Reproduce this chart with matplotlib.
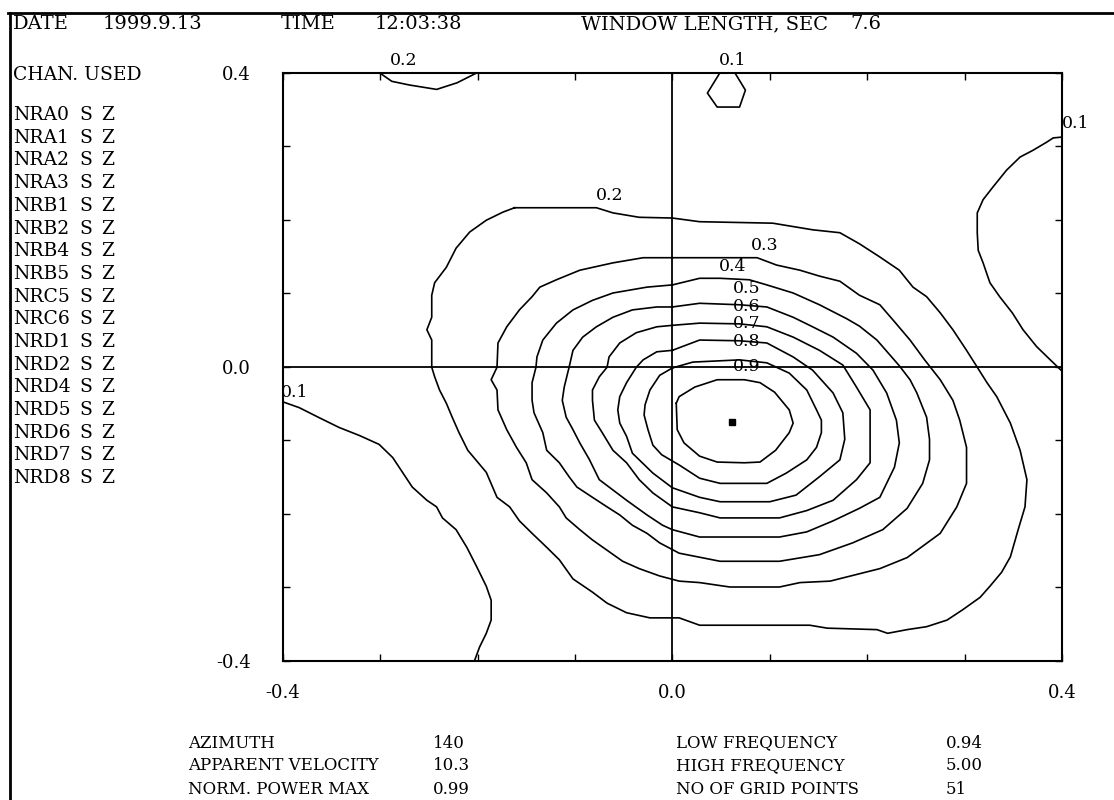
import matplotlib
matplotlib.use("Agg")
import matplotlib.pyplot as plt
from matplotlib.lines import Line2D

W, H = 1114, 800

# --- header and station list -------------------------------------------
header_labels = ["DATE", "TIME", "WINDOW LENGTH, SEC"]
header_values = ["1999.9.13", "12:03:38", "7.6"]

channels = ["NRA0", "NRA1", "NRA2", "NRA3", "NRB1", "NRB2", "NRB4", "NRB5",
            "NRC5", "NRC6", "NRD1", "NRD2", "NRD4", "NRD5", "NRD6", "NRD7",
            "NRD8"]
chan_type = "S"
chan_comp = "Z"

summary_left = ["AZIMUTH", "APPARENT VELOCITY", "NORM. POWER MAX"]
summary_left_vals = ["140", "10.3", "0.99"]
summary_right = ["LOW FREQUENCY", "HIGH FREQUENCY", "NO OF GRID POINTS"]
summary_right_vals = ["0.94", "5.00", "51"]

# --- contour traces (slowness x, slowness y) ----------------------------
ring_02 = [(-0.162, 0.216), (-0.078, 0.216), (-0.061, 0.209), (-0.034, 0.203),
           (0.000, 0.202), (0.028, 0.197), (0.103, 0.195), (0.144, 0.186),
           (0.172, 0.182), (0.192, 0.167), (0.213, 0.149), (0.233, 0.131),
           (0.247, 0.108), (0.261, 0.095), (0.275, 0.073), (0.288, 0.050),
           (0.302, 0.022), (0.313, -0.001), (0.323, -0.022), (0.333, -0.041),
           (0.347, -0.077), (0.357, -0.114), (0.364, -0.154), (0.362, -0.191),
           (0.355, -0.222), (0.347, -0.259), (0.338, -0.280), (0.326, -0.299),
           (0.316, -0.314), (0.298, -0.331), (0.282, -0.345), (0.261, -0.354),
           (0.241, -0.358), (0.221, -0.363), (0.210, -0.358), (0.159, -0.356),
           (0.141, -0.352), (0.028, -0.352), (0.007, -0.342), (-0.023, -0.342),
           (-0.047, -0.335), (-0.067, -0.322), (-0.082, -0.307), (-0.102, -0.289),
           (-0.116, -0.263), (-0.129, -0.246), (-0.144, -0.227), (-0.157, -0.210),
           (-0.167, -0.191), (-0.180, -0.178), (-0.191, -0.144), (-0.210, -0.114),
           (-0.219, -0.090), (-0.226, -0.069), (-0.232, -0.050), (-0.239, -0.032),
           (-0.244, -0.014), (-0.247, -0.001), (-0.247, 0.036), (-0.252, 0.050),
           (-0.247, 0.067), (-0.247, 0.097), (-0.244, 0.114), (-0.232, 0.135),
           (-0.222, 0.161), (-0.208, 0.183), (-0.191, 0.199), (-0.174, 0.210),
           (-0.162, 0.216)]

ring_03 = [(0.000, 0.148), (0.087, 0.148), (0.107, 0.138), (0.131, 0.131),
           (0.151, 0.123), (0.172, 0.116), (0.192, 0.097), (0.213, 0.084),
           (0.228, 0.061), (0.244, 0.036), (0.259, 0.009), (0.275, -0.018),
           (0.288, -0.046), (0.295, -0.073), (0.302, -0.110), (0.302, -0.159),
           (0.292, -0.191), (0.275, -0.227), (0.241, -0.260), (0.213, -0.275),
           (0.192, -0.282), (0.162, -0.292), (0.131, -0.294), (0.110, -0.300),
           (0.059, -0.300), (0.028, -0.294), (0.007, -0.292), (-0.013, -0.285),
           (-0.034, -0.275), (-0.051, -0.265), (-0.067, -0.250), (-0.082, -0.236),
           (-0.095, -0.222), (-0.109, -0.206), (-0.116, -0.191), (-0.129, -0.172),
           (-0.144, -0.154), (-0.150, -0.131), (-0.160, -0.110), (-0.170, -0.086),
           (-0.179, -0.059), (-0.180, -0.032), (-0.186, -0.018), (-0.180, -0.001),
           (-0.179, 0.032), (-0.170, 0.054), (-0.157, 0.077), (-0.144, 0.095),
           (-0.136, 0.108), (-0.119, 0.118), (-0.095, 0.131), (-0.061, 0.141),
           (-0.030, 0.148), (0.000, 0.148)]

ring_04 = [(0.000, 0.111), (0.028, 0.120), (0.049, 0.120), (0.079, 0.118),
           (0.097, 0.111), (0.124, 0.100), (0.151, 0.084), (0.179, 0.065),
           (0.192, 0.055), (0.210, 0.036), (0.233, 0.001), (0.244, -0.018),
           (0.251, -0.036), (0.261, -0.069), (0.264, -0.099), (0.264, -0.127),
           (0.257, -0.159), (0.241, -0.193), (0.216, -0.222), (0.185, -0.240),
           (0.151, -0.256), (0.110, -0.265), (0.049, -0.265), (0.007, -0.254),
           (-0.013, -0.240), (-0.026, -0.227), (-0.041, -0.216), (-0.054, -0.202),
           (-0.067, -0.191), (-0.082, -0.178), (-0.098, -0.164), (-0.106, -0.150),
           (-0.116, -0.131), (-0.129, -0.114), (-0.133, -0.090), (-0.142, -0.063),
           (-0.144, -0.046), (-0.144, -0.022), (-0.140, -0.001), (-0.139, 0.013),
           (-0.133, 0.036), (-0.119, 0.059), (-0.102, 0.077), (-0.082, 0.090),
           (-0.061, 0.100), (-0.026, 0.108), (0.000, 0.111)]

ring_05 = [(0.000, 0.081), (0.028, 0.086), (0.069, 0.084), (0.097, 0.081),
           (0.124, 0.067), (0.144, 0.054), (0.165, 0.040), (0.189, 0.018),
           (0.206, -0.005), (0.220, -0.036), (0.230, -0.073), (0.233, -0.104),
           (0.228, -0.137), (0.213, -0.178), (0.192, -0.193), (0.165, -0.210),
           (0.138, -0.225), (0.110, -0.232), (0.028, -0.232), (0.000, -0.222),
           (-0.010, -0.216), (-0.026, -0.202), (-0.047, -0.182), (-0.061, -0.168),
           (-0.075, -0.154), (-0.085, -0.127), (-0.095, -0.104), (-0.102, -0.086),
           (-0.109, -0.069), (-0.113, -0.046), (-0.111, -0.028), (-0.106, -0.001),
           (-0.102, 0.022), (-0.092, 0.040), (-0.078, 0.054), (-0.061, 0.067),
           (-0.041, 0.077), (-0.016, 0.081), (0.000, 0.081)]

ring_06 = [(0.000, 0.056), (0.028, 0.059), (0.069, 0.058), (0.097, 0.054),
           (0.124, 0.040), (0.151, 0.022), (0.175, 0.002), (0.189, -0.028),
           (0.203, -0.059), (0.203, -0.131), (0.189, -0.154), (0.165, -0.182),
           (0.138, -0.196), (0.110, -0.206), (0.049, -0.206), (0.028, -0.199),
           (0.000, -0.191), (-0.020, -0.172), (-0.034, -0.154), (-0.047, -0.131),
           (-0.061, -0.114), (-0.072, -0.090), (-0.080, -0.073), (-0.082, -0.046),
           (-0.082, -0.032), (-0.075, -0.014), (-0.067, -0.001), (-0.065, 0.013),
           (-0.054, 0.032), (-0.037, 0.046), (-0.016, 0.054), (0.000, 0.056)]

ring_07 = [(0.000, 0.022), (0.028, 0.036), (0.069, 0.035), (0.097, 0.032),
           (0.124, 0.013), (0.144, -0.005), (0.165, -0.036), (0.175, -0.063),
           (0.177, -0.099), (0.172, -0.127), (0.151, -0.150), (0.127, -0.175),
           (0.100, -0.184), (0.049, -0.184), (0.028, -0.178), (0.000, -0.165),
           (-0.020, -0.145), (-0.034, -0.127), (-0.041, -0.118), (-0.047, -0.095),
           (-0.054, -0.077), (-0.056, -0.059), (-0.054, -0.041), (-0.047, -0.022),
           (-0.037, -0.001), (-0.030, 0.009), (-0.016, 0.020), (0.000, 0.022)]

ring_08 = [(0.000, -0.002), (0.021, 0.006), (0.069, 0.009), (0.097, 0.005),
           (0.120, -0.009), (0.138, -0.032), (0.148, -0.059), (0.153, -0.073),
           (0.153, -0.090), (0.148, -0.110), (0.138, -0.127), (0.117, -0.145),
           (0.097, -0.159), (0.049, -0.159), (0.028, -0.152), (0.007, -0.134),
           (-0.011, -0.120), (-0.020, -0.107), (-0.025, -0.086), (-0.029, -0.066),
           (-0.028, -0.052), (-0.023, -0.032), (-0.013, -0.012), (0.000, -0.002)]

ring_09 = [(0.004, -0.050), (0.005, -0.086), (0.012, -0.104), (0.028, -0.122),
           (0.046, -0.130), (0.074, -0.131), (0.090, -0.130), (0.106, -0.114),
           (0.120, -0.090), (0.124, -0.077), (0.120, -0.059), (0.105, -0.035),
           (0.090, -0.022), (0.074, -0.018), (0.046, -0.018), (0.023, -0.028),
           (0.007, -0.041), (0.004, -0.050)]

edge_01_right = [(0.399, 0.312), (0.391, 0.311), (0.384, 0.305), (0.370, 0.294),
                 (0.357, 0.285), (0.343, 0.267), (0.329, 0.244), (0.319, 0.227),
                 (0.313, 0.209), (0.313, 0.182), (0.314, 0.158), (0.319, 0.141),
                 (0.326, 0.114), (0.336, 0.095), (0.349, 0.073), (0.360, 0.050),
                 (0.374, 0.027), (0.388, 0.009), (0.399, -0.005)]

edge_01_left = [(-0.400, -0.048), (-0.383, -0.056), (-0.362, -0.070), (-0.342, -0.083),
                (-0.321, -0.094), (-0.301, -0.106), (-0.287, -0.124), (-0.280, -0.138),
                (-0.267, -0.164), (-0.252, -0.182), (-0.242, -0.191), (-0.236, -0.206),
                (-0.222, -0.222), (-0.211, -0.246), (-0.201, -0.272), (-0.191, -0.299),
                (-0.186, -0.318), (-0.186, -0.345), (-0.191, -0.363), (-0.198, -0.382),
                (-0.203, -0.400)]

edge_01_top = [(0.049, 0.400), (0.036, 0.372), (0.046, 0.353), (0.069, 0.353),
               (0.075, 0.376), (0.064, 0.400)]

edge_02_top = [(-0.301, 0.400), (-0.288, 0.388), (-0.270, 0.383), (-0.242, 0.377),
               (-0.221, 0.386), (-0.200, 0.400)]

contours = [ring_02, ring_03, ring_04, ring_05, ring_06, ring_07, ring_08,
            ring_09, edge_01_right, edge_01_left, edge_01_top, edge_02_top]

# contour level labels
label_text = ["0.2", "0.1", "0.1", "0.1", "0.2", "0.3", "0.4",
              "0.5", "0.6", "0.7", "0.8", "0.9"]
label_x = [-0.276, 0.062, 0.414, -0.388, -0.064, 0.095, 0.062,
           0.076, 0.076, 0.076, 0.076, 0.076]
label_y = [0.417, 0.417, 0.331, -0.035, 0.233, 0.165, 0.136,
           0.106, 0.082, 0.059, 0.034, 0.000]

peak_x, peak_y = 0.061, -0.076

ticks = [-0.4, -0.3, -0.2, -0.1, 0.0, 0.1, 0.2, 0.3, 0.4]
tick_labels = ["-0.4", "", "", "", "0.0", "", "", "", "0.4"]


def fx(px):
    return px / W


def fy(py):
    return 1 - py / H


plt.rcParams["font.family"] = ["DejaVu Serif"]
plt.rcParams["font.size"] = 12

fig = plt.figure(figsize=(W / 100, H / 100), dpi=100)
ax = fig.add_axes([fx(282.7), fy(660.5), fx(1062) - fx(282.7), fy(72.5) - fy(660.5)])

for piece in contours:
    xs, ys = zip(*piece)
    ax.plot(xs, ys, color="black", lw=1.2)

ax.axhline(0, color="black", lw=1.3)
ax.axvline(0, color="black", lw=1.3)
ax.plot(peak_x, peak_y, marker="s", ms=4, color="black")

for t, x, y in zip(label_text, label_x, label_y):
    ax.text(x, y, t, ha="center", va="center", fontsize=12.5)

ax.set_xlim(-0.4, 0.4)
ax.set_ylim(-0.4, 0.4)
ax.set_xticks(ticks)
ax.set_xticklabels(tick_labels)
ax.set_yticks(ticks)
ax.set_yticklabels(tick_labels)
ax.tick_params(direction="in", length=5, width=1, top=True, right=True,
               labelsize=13)
ax.tick_params(axis="x", pad=17)
ax.tick_params(axis="y", pad=23)
for sp in ax.spines.values():
    sp.set_linewidth(1.5)

# outer frame: top and left rules
fig.add_artist(Line2D([fx(8), 1], [fy(13), fy(13)], color="black", lw=2,
                      transform=fig.transFigure))
fig.add_artist(Line2D([fx(10), fx(10)], [fy(13), 0], color="black", lw=2,
                      transform=fig.transFigure))

# header row
head_x = [(13, 103), (281, 375), (581, 850)]
for (lx, vx), lab, val in zip(head_x, header_labels, header_values):
    fig.text(fx(lx), fy(24), lab, ha="left", va="center", fontsize=14)
    fig.text(fx(vx), fy(24), val, ha="left", va="center", fontsize=14)

fig.text(fx(13), fy(75), "CHAN. USED", ha="left", va="center", fontsize=13.5)
for i, ch in enumerate(channels):
    yy = 115 + i * 22.7
    fig.text(fx(13), fy(yy), ch, ha="left", va="center", fontsize=13.5)
    fig.text(fx(79), fy(yy), chan_type, ha="left", va="center", fontsize=13.5)
    fig.text(fx(101), fy(yy), chan_comp, ha="left", va="center", fontsize=13.5)

# summary block
for i in range(3):
    yy = 743 + i * 23
    fig.text(fx(188), fy(yy), summary_left[i], ha="left", va="center")
    fig.text(fx(433), fy(yy), summary_left_vals[i], ha="left", va="center")
    fig.text(fx(676), fy(yy), summary_right[i], ha="left", va="center")
    fig.text(fx(946), fy(yy), summary_right_vals[i], ha="left", va="center")

fig.savefig("out.png", dpi=100)
